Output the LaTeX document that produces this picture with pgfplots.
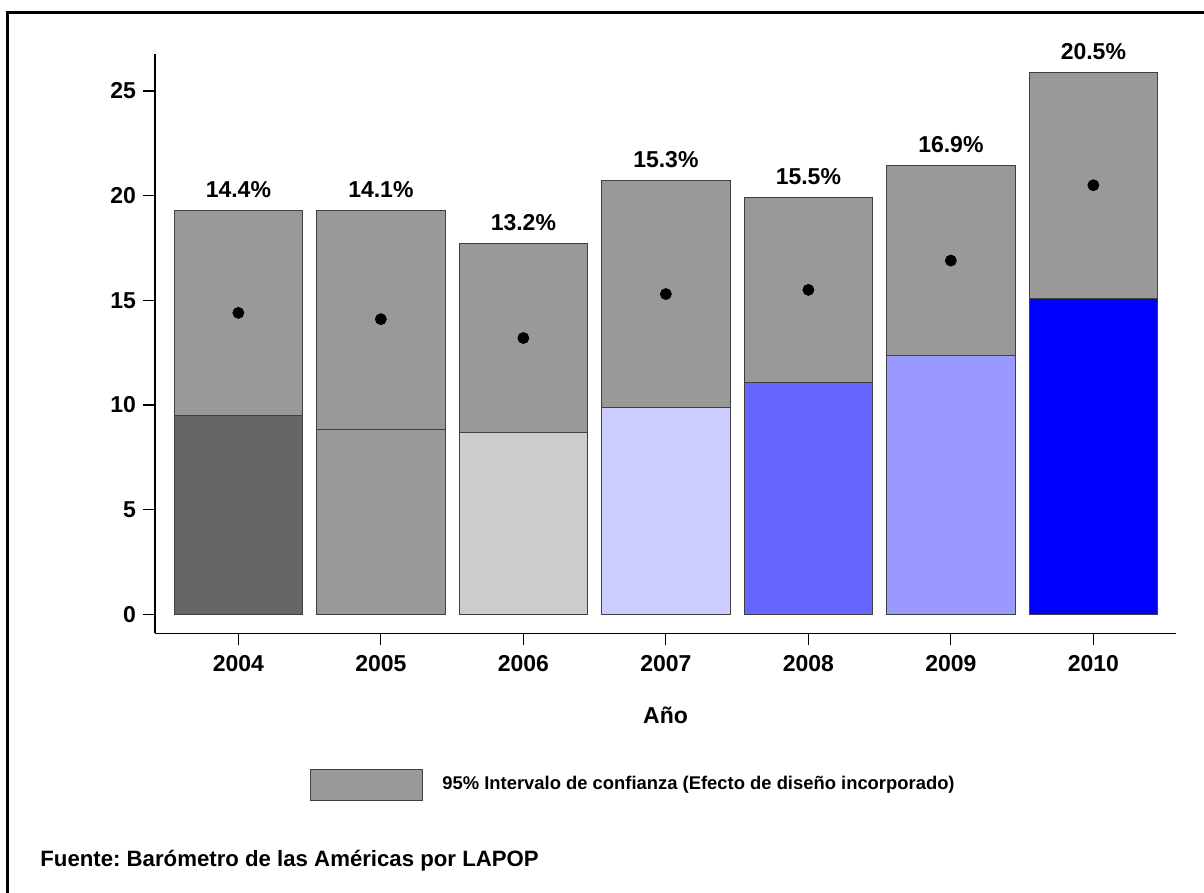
\documentclass[border=0pt]{standalone}
\usepackage{pgfplots}
\pgfplotsset{compat=1.18}
\usepackage{fontspec}
\setmainfont{Liberation Sans}
\frenchspacing
\definecolor{ci}{HTML}{999999}
\definecolor{cA}{HTML}{666666}
\definecolor{cB}{HTML}{999999}
\definecolor{cC}{HTML}{CCCCCC}
\definecolor{cD}{HTML}{CCCCFF}
\definecolor{cE}{HTML}{6666FF}
\definecolor{cF}{HTML}{9999FF}
\definecolor{cG}{HTML}{0000FF}
\begin{document}
\begin{tikzpicture}[x=0.5pt,y=0.5pt]
\path[use as bounding box] (0,0) rectangle (1204,893);
\draw[line width=1.5pt] (7,-5) -- (7,880) -- (1210,880);
\begin{axis}[
  at={(77.5pt,129.85pt)}, anchor=south west,
  width=510.5pt, height=289.65pt, scale only axis,
  xmin=2003.415, xmax=2010.58, ymin=-0.908, ymax=26.77,
  axis lines*=left,
  axis line style={line width=0.6pt},
  ybar, bar width=0.903, bar shift=0pt,
  xtick={2004,2005,2006,2007,2008,2009,2010},
  xticklabels={2004,2005,2006,2007,2008,2009,2010},
  ytick={0,5,10,15,20,25},
  tick align=outside, major tick length=6pt,
  xtick align=outside, ytick align=outside,
  tick style={line width=0.6pt, black},
  xtick style={draw=black, line width=0.6pt},
  ytick style={draw=black, line width=0.6pt},
  /pgf/number format/assume math mode=true,
  ticklabel style={font=\fontsize{11.5}{12}\selectfont\bfseries},
  xticklabel style={anchor=base, yshift=-13pt},
  xlabel={Año},
  xlabel style={at={(axis description cs:0.5,0)}, anchor=base, yshift=-45pt, font=\fontsize{11.5}{12}\selectfont\bfseries},
  clip=false,
]
% CI bars (0 to upper bound), later covered below the lower bound
\addplot[fill=ci, draw=black!75, line width=0.5pt] coordinates {
  (2004,19.30) (2005,19.28) (2006,17.71) (2007,20.74) (2008,19.90) (2009,21.43) (2010,25.88)};
% colored bars up to the lower bound
\addplot[fill=cA, draw=black!75, line width=0.5pt] coordinates {(2004,9.49)};
\addplot[fill=cB, draw=black!75, line width=0.5pt] coordinates {(2005,8.84)};
\addplot[fill=cC, draw=black!75, line width=0.5pt] coordinates {(2006,8.68)};
\addplot[fill=cD, draw=black!75, line width=0.5pt] coordinates {(2007,9.89)};
\addplot[fill=cE, draw=black!75, line width=0.5pt] coordinates {(2008,11.08)};
\addplot[fill=cF, draw=black!75, line width=0.5pt] coordinates {(2009,12.35)};
\addplot[fill=cG, draw=black!75, line width=0.5pt] coordinates {(2010,15.08)};
% means
\addplot[sharp plot, only marks, mark=*, mark size=2.75pt, black] coordinates {
  (2004,14.4) (2005,14.1) (2006,13.2) (2007,15.3) (2008,15.5) (2009,16.9) (2010,20.5)};
% labels
\addplot[sharp plot, draw=none, point meta=explicit symbolic,
  nodes near coords={\pgfplotspointmeta},
  every node near coord/.append style={anchor=base, inner sep=0pt, yshift=6.5pt,
    font=\fontsize{11.5}{12}\selectfont\bfseries, text=black}] coordinates {
  (2004,19.30) [14.4\%]
  (2005,19.28) [14.1\%]
  (2006,17.71) [13.2\%]
  (2007,20.74) [15.3\%]
  (2008,19.90) [15.5\%]
  (2009,21.43) [16.9\%]
  (2010,25.88) [20.5\%]};
\end{axis}
% legend
\draw[fill=ci, draw=black!75, line width=0.5pt] (310,92.3) rectangle (422.7,123);
\node[anchor=west, inner sep=0pt, font=\fontsize{9.2}{10}\selectfont\bfseries] at (442,108) {95\% Intervalo de confianza (Efecto de diseño incorporado)};
% source
\node[anchor=base west, inner sep=0pt, font=\fontsize{11.1}{12}\selectfont\bfseries] at (40,26) {Fuente: Barómetro de las Américas por LAPOP};
\end{tikzpicture}
\end{document}
